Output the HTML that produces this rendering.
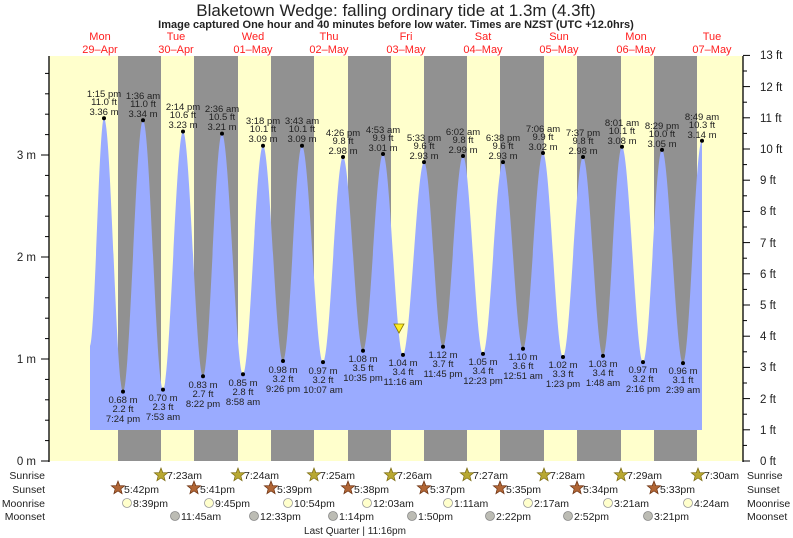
<!DOCTYPE html>
<html><head><meta charset="utf-8"><style>
html,body{margin:0;padding:0;background:#fff}
svg{display:block}
text{font-family:"Liberation Sans",sans-serif;fill:#222}
.hl text,.ll text{font-size:9.5px;text-anchor:middle}
.day text{font-size:11px;fill:#ff2020;text-anchor:middle}
.ax text{font-size:11.5px}
.row text{font-size:10.5px}
.ev text{font-size:10.5px}
</style></head><body>
<svg width="793" height="538" viewBox="0 0 793 538" xmlns="http://www.w3.org/2000/svg">
<defs>
<polygon id="st" points="0,-7 1.8,-2.4 6.7,-2.2 2.9,0.9 4.1,5.7 0,3 -4.1,5.7 -2.9,0.9 -6.7,-2.2 -1.8,-2.4"/>
</defs>
<text x="396" y="16" style="font-size:17px" text-anchor="middle">Blaketown Wedge: falling  ordinary tide at 1.3m (4.3ft)</text>
<text x="396" y="28" style="font-size:11px;font-weight:bold" text-anchor="middle">Image captured One hour and 40 minutes before low water. Times are NZST (UTC +12.0hrs)</text>
<g class="day">
<text x="100" y="40">Mon</text><text x="100" y="53">29–Apr</text>
<text x="176" y="40">Tue</text><text x="176" y="53">30–Apr</text>
<text x="253" y="40">Wed</text><text x="253" y="53">01–May</text>
<text x="329" y="40">Thu</text><text x="329" y="53">02–May</text>
<text x="406" y="40">Fri</text><text x="406" y="53">03–May</text>
<text x="483" y="40">Sat</text><text x="483" y="53">04–May</text>
<text x="559" y="40">Sun</text><text x="559" y="53">05–May</text>
<text x="636" y="40">Mon</text><text x="636" y="53">06–May</text>
<text x="712" y="40">Tue</text><text x="712" y="53">07–May</text>
</g>
<rect x="49" y="56" width="694" height="405" fill="#ffffcc"/>
<g fill="#919191">
<rect x="118" y="56" width="43" height="405"/>
<rect x="194" y="56" width="44" height="405"/>
<rect x="271" y="56" width="43" height="405"/>
<rect x="348" y="56" width="43" height="405"/>
<rect x="424" y="56" width="43" height="405"/>
<rect x="500" y="56" width="44" height="405"/>
<rect x="577" y="56" width="44" height="405"/>
<rect x="654" y="56" width="43" height="405"/>
</g>
<path fill="#9aabff" d="M90,430 L90,346 C95,340 99,118.3 104,118.3
C111,118.3 116,391.6 123,391.6 C130,391.6 136,120.3 143,120.3
C150,120.3 156,389.6 163,389.6 C170,389.6 176,131.5 183,131.5
C190,131.5 196,376.3 203,376.3 C210,376.3 215,133.6 222,133.6
C229,133.6 236,374.3 243,374.3 C250,374.3 256,145.8 263,145.8
C270,145.8 276,361 283,361 C290,361 295,145.8 302,145.8
C309,145.8 316,362.1 323,362.1 C330,362.1 336,157 343,157
C350,157 356,350.8 363,350.8 C370,350.8 376,154 383,154
C390,154 396,354.9 403,354.9 C410,354.9 417,162.1 424,162.1
C431,162.1 436,346.8 443,346.8 C450,346.8 456,156 463,156
C470,156 476,353.9 483,353.9 C490,353.9 496,162.1 503,162.1
C510,162.1 516,348.8 523,348.8 C530,348.8 536,153 543,153
C550,153 556,357 563,357 C570,357 576,157 583,157
C590,157 596,355.9 603,355.9 C610,355.9 615,146.8 622,146.8
C629,146.8 636,362.1 643,362.1 C650,362.1 655,149.9 662,149.9
C669,149.9 676,363.1 683,363.1 C690,363.1 695,140.7 702,140.7
L702,430 Z"/>
<g fill="#000">
<circle cx="104" cy="118.3" r="2"/><circle cx="143" cy="120.3" r="2"/><circle cx="183" cy="131.5" r="2"/><circle cx="222" cy="133.6" r="2"/>
<circle cx="263" cy="145.8" r="2"/><circle cx="302" cy="145.8" r="2"/><circle cx="343" cy="157" r="2"/><circle cx="383" cy="154" r="2"/>
<circle cx="424" cy="162.1" r="2"/><circle cx="463" cy="156" r="2"/><circle cx="503" cy="162.1" r="2"/><circle cx="543" cy="153" r="2"/>
<circle cx="583" cy="157" r="2"/><circle cx="622" cy="146.8" r="2"/><circle cx="662" cy="149.9" r="2"/><circle cx="702" cy="140.7" r="2"/>
<circle cx="123" cy="391.6" r="2"/><circle cx="163" cy="389.6" r="2"/><circle cx="203" cy="376.3" r="2"/><circle cx="243" cy="374.3" r="2"/>
<circle cx="283" cy="361" r="2"/><circle cx="323" cy="362.1" r="2"/><circle cx="363" cy="350.8" r="2"/><circle cx="403" cy="354.9" r="2"/>
<circle cx="443" cy="346.8" r="2"/><circle cx="483" cy="353.9" r="2"/><circle cx="523" cy="348.8" r="2"/><circle cx="563" cy="357" r="2"/>
<circle cx="603" cy="355.9" r="2"/><circle cx="643" cy="362.1" r="2"/><circle cx="683" cy="363.1" r="2"/>
</g>
<g class="hl">
<text x="104" y="97">1:15 pm</text><text x="104" y="105">11.0 ft</text><text x="104" y="115">3.36 m</text>
<text x="143" y="99">1:36 am</text><text x="143" y="107">11.0 ft</text><text x="143" y="117">3.34 m</text>
<text x="183" y="110">2:14 pm</text><text x="183" y="118">10.6 ft</text><text x="183" y="128">3.23 m</text>
<text x="222" y="112">2:36 am</text><text x="222" y="120">10.5 ft</text><text x="222" y="130">3.21 m</text>
<text x="263" y="124">3:18 pm</text><text x="263" y="132">10.1 ft</text><text x="263" y="142">3.09 m</text>
<text x="302" y="124">3:43 am</text><text x="302" y="132">10.1 ft</text><text x="302" y="142">3.09 m</text>
<text x="343" y="136">4:26 pm</text><text x="343" y="144">9.8 ft</text><text x="343" y="154">2.98 m</text>
<text x="383" y="133">4:53 am</text><text x="383" y="141">9.9 ft</text><text x="383" y="151">3.01 m</text>
<text x="424" y="141">5:33 pm</text><text x="424" y="149">9.6 ft</text><text x="424" y="159">2.93 m</text>
<text x="463" y="135">6:02 am</text><text x="463" y="143">9.8 ft</text><text x="463" y="153">2.99 m</text>
<text x="503" y="141">6:38 pm</text><text x="503" y="149">9.6 ft</text><text x="503" y="159">2.93 m</text>
<text x="543" y="132">7:06 am</text><text x="543" y="140">9.9 ft</text><text x="543" y="150">3.02 m</text>
<text x="583" y="136">7:37 pm</text><text x="583" y="144">9.8 ft</text><text x="583" y="154">2.98 m</text>
<text x="622" y="126">8:01 am</text><text x="622" y="134">10.1 ft</text><text x="622" y="144">3.08 m</text>
<text x="662" y="129">8:29 pm</text><text x="662" y="137">10.0 ft</text><text x="662" y="147">3.05 m</text>
<text x="702" y="120">8:49 am</text><text x="702" y="128">10.3 ft</text><text x="702" y="138">3.14 m</text>
</g>
<g class="ll">
<text x="123" y="403">0.68 m</text><text x="123" y="412">2.2 ft</text><text x="123" y="422">7:24 pm</text>
<text x="163" y="401">0.70 m</text><text x="163" y="410">2.3 ft</text><text x="163" y="420">7:53 am</text>
<text x="203" y="388">0.83 m</text><text x="203" y="397">2.7 ft</text><text x="203" y="407">8:22 pm</text>
<text x="243" y="386">0.85 m</text><text x="243" y="395">2.8 ft</text><text x="243" y="405">8:58 am</text>
<text x="283" y="373">0.98 m</text><text x="283" y="382">3.2 ft</text><text x="283" y="392">9:26 pm</text>
<text x="323" y="374">0.97 m</text><text x="323" y="383">3.2 ft</text><text x="323" y="393">10:07 am</text>
<text x="363" y="362">1.08 m</text><text x="363" y="371">3.5 ft</text><text x="363" y="381">10:35 pm</text>
<text x="403" y="366">1.04 m</text><text x="403" y="375">3.4 ft</text><text x="403" y="385">11:16 am</text>
<text x="443" y="358">1.12 m</text><text x="443" y="367">3.7 ft</text><text x="443" y="377">11:45 pm</text>
<text x="483" y="365">1.05 m</text><text x="483" y="374">3.4 ft</text><text x="483" y="384">12:23 pm</text>
<text x="523" y="360">1.10 m</text><text x="523" y="369">3.6 ft</text><text x="523" y="379">12:51 am</text>
<text x="563" y="368">1.02 m</text><text x="563" y="377">3.3 ft</text><text x="563" y="387">1:23 pm</text>
<text x="603" y="367">1.03 m</text><text x="603" y="376">3.4 ft</text><text x="603" y="386">1:48 am</text>
<text x="643" y="373">0.97 m</text><text x="643" y="382">3.2 ft</text><text x="643" y="392">2:16 pm</text>
<text x="683" y="374">0.96 m</text><text x="683" y="383">3.1 ft</text><text x="683" y="393">2:39 am</text>
</g>
<polygon points="394,324 404,324 399,333" fill="#ffee22" stroke="#887700" stroke-width="0.8"/>
<g stroke="#000" stroke-width="1.3">
<line x1="49" y1="56" x2="49" y2="462"/><line x1="743" y1="56" x2="743" y2="462"/>
</g>
<g stroke="#000" stroke-width="1">
<line x1="41" y1="461" x2="49" y2="461"/><line x1="41" y1="359" x2="49" y2="359"/><line x1="41" y1="257" x2="49" y2="257"/><line x1="41" y1="155" x2="49" y2="155"/>
<line x1="45" y1="440.6" x2="49" y2="440.6"/><line x1="45" y1="420.2" x2="49" y2="420.2"/><line x1="45" y1="399.8" x2="49" y2="399.8"/><line x1="45" y1="379.4" x2="49" y2="379.4"/>
<line x1="45" y1="338.6" x2="49" y2="338.6"/><line x1="45" y1="318.2" x2="49" y2="318.2"/><line x1="45" y1="297.8" x2="49" y2="297.8"/><line x1="45" y1="277.4" x2="49" y2="277.4"/>
<line x1="45" y1="236.6" x2="49" y2="236.6"/><line x1="45" y1="216.2" x2="49" y2="216.2"/><line x1="45" y1="195.8" x2="49" y2="195.8"/><line x1="45" y1="175.4" x2="49" y2="175.4"/>
<line x1="45" y1="134.6" x2="49" y2="134.6"/><line x1="45" y1="114.2" x2="49" y2="114.2"/><line x1="45" y1="93.8" x2="49" y2="93.8"/><line x1="45" y1="73.4" x2="49" y2="73.4"/>
</g>
<g stroke="#000" stroke-width="1">
<line x1="743" y1="461" x2="750" y2="461"/><line x1="743" y1="429.8" x2="750" y2="429.8"/><line x1="743" y1="398.6" x2="750" y2="398.6"/><line x1="743" y1="367.4" x2="750" y2="367.4"/>
<line x1="743" y1="336.2" x2="750" y2="336.2"/><line x1="743" y1="305" x2="750" y2="305"/><line x1="743" y1="273.8" x2="750" y2="273.8"/><line x1="743" y1="242.6" x2="750" y2="242.6"/>
<line x1="743" y1="211.4" x2="750" y2="211.4"/><line x1="743" y1="180.2" x2="750" y2="180.2"/><line x1="743" y1="149" x2="750" y2="149"/><line x1="743" y1="117.8" x2="750" y2="117.8"/>
<line x1="743" y1="86.6" x2="750" y2="86.6"/><line x1="743" y1="55.4" x2="750" y2="55.4"/>
<line x1="743" y1="445.4" x2="747" y2="445.4"/><line x1="743" y1="414.2" x2="747" y2="414.2"/><line x1="743" y1="383" x2="747" y2="383"/><line x1="743" y1="351.8" x2="747" y2="351.8"/>
<line x1="743" y1="320.6" x2="747" y2="320.6"/><line x1="743" y1="289.4" x2="747" y2="289.4"/><line x1="743" y1="258.2" x2="747" y2="258.2"/><line x1="743" y1="227" x2="747" y2="227"/>
<line x1="743" y1="195.8" x2="747" y2="195.8"/><line x1="743" y1="164.6" x2="747" y2="164.6"/><line x1="743" y1="133.4" x2="747" y2="133.4"/><line x1="743" y1="102.2" x2="747" y2="102.2"/>
<line x1="743" y1="71" x2="747" y2="71"/>
</g>
<g class="ax" text-anchor="end">
<text x="36" y="159">3 m</text><text x="36" y="261">2 m</text><text x="36" y="363">1 m</text><text x="36" y="465">0 m</text>
</g>
<g class="ax">
<text x="760" y="465">0 ft</text><text x="760" y="434">1 ft</text><text x="760" y="403">2 ft</text><text x="760" y="371">3 ft</text>
<text x="760" y="340">4 ft</text><text x="760" y="309">5 ft</text><text x="760" y="278">6 ft</text><text x="760" y="247">7 ft</text>
<text x="760" y="215">8 ft</text><text x="760" y="184">9 ft</text><text x="760" y="153">10 ft</text><text x="760" y="122">11 ft</text>
<text x="760" y="91">12 ft</text><text x="760" y="59">13 ft</text>
</g>
<g class="row" text-anchor="end">
<text x="45" y="479">Sunrise</text><text x="45" y="493">Sunset</text><text x="45" y="507">Moonrise</text><text x="45" y="520">Moonset</text>
</g>
<g class="row">
<text x="747" y="479">Sunrise</text><text x="747" y="493">Sunset</text><text x="747" y="507">Moonrise</text><text x="747" y="520">Moonset</text>
</g>
<g fill="#b8a832" stroke="#7a6a10" stroke-width="0.7">
<use href="#st" x="161" y="475"/><use href="#st" x="238" y="475"/><use href="#st" x="314" y="475"/><use href="#st" x="391" y="475"/>
<use href="#st" x="467" y="475"/><use href="#st" x="544" y="475"/><use href="#st" x="621" y="475"/><use href="#st" x="698" y="475"/>
</g>
<g fill="#b06535" stroke="#6a3010" stroke-width="0.7">
<use href="#st" x="118" y="488"/><use href="#st" x="194" y="488"/><use href="#st" x="271" y="488"/><use href="#st" x="348" y="488"/>
<use href="#st" x="424" y="488"/><use href="#st" x="500" y="488"/><use href="#st" x="577" y="488"/><use href="#st" x="654" y="488"/>
</g>
<g class="ev">
<text x="167" y="479">7:23am</text><text x="244" y="479">7:24am</text><text x="320" y="479">7:25am</text><text x="397" y="479">7:26am</text>
<text x="473" y="479">7:27am</text><text x="550" y="479">7:28am</text><text x="627" y="479">7:29am</text><text x="704" y="479">7:30am</text>
<text x="124" y="493">5:42pm</text><text x="200" y="493">5:41pm</text><text x="277" y="493">5:39pm</text><text x="354" y="493">5:38pm</text>
<text x="430" y="493">5:37pm</text><text x="506" y="493">5:35pm</text><text x="583" y="493">5:34pm</text><text x="660" y="493">5:33pm</text>
<text x="133" y="507">8:39pm</text><text x="215" y="507">9:45pm</text><text x="294" y="507">10:54pm</text><text x="373" y="507">12:03am</text>
<text x="454" y="507">1:11am</text><text x="534" y="507">2:17am</text><text x="614" y="507">3:21am</text><text x="694" y="507">4:24am</text>
<text x="181" y="520">11:45am</text><text x="260" y="520">12:33pm</text><text x="339" y="520">1:14pm</text><text x="418" y="520">1:50pm</text>
<text x="496" y="520">2:22pm</text><text x="574" y="520">2:52pm</text><text x="654" y="520">3:21pm</text>
<text x="355" y="534" text-anchor="middle" style="font-size:10px">Last Quarter | 11:16pm</text>
</g>
<g fill="#ffffcc" stroke="#999" stroke-width="0.8">
<circle cx="127" cy="503" r="4.5"/><circle cx="209" cy="503" r="4.5"/><circle cx="288" cy="503" r="4.5"/><circle cx="367" cy="503" r="4.5"/>
<circle cx="448" cy="503" r="4.5"/><circle cx="528" cy="503" r="4.5"/><circle cx="608" cy="503" r="4.5"/><circle cx="688" cy="503" r="4.5"/>
</g>
<g fill="#bcbcb4" stroke="#888" stroke-width="0.8">
<circle cx="175" cy="516" r="4.5"/><circle cx="254" cy="516" r="4.5"/><circle cx="333" cy="516" r="4.5"/><circle cx="412" cy="516" r="4.5"/>
<circle cx="490" cy="516" r="4.5"/><circle cx="568" cy="516" r="4.5"/><circle cx="648" cy="516" r="4.5"/>
</g>
</svg>
</body></html>
